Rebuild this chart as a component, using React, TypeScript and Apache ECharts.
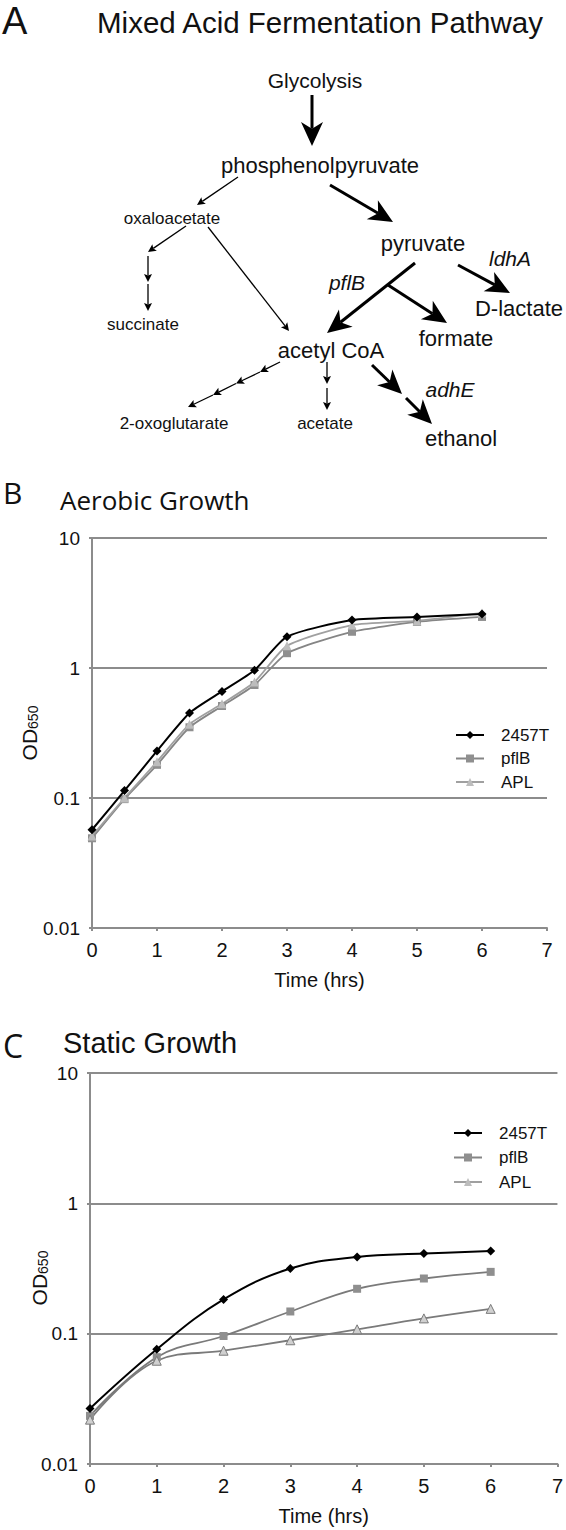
import React, { useEffect, useRef } from "react";
import * as echarts from "echarts";

// ---- Data ----
const seriesNames = ["2457T", "pflB", "APL"];
const xTickLabels = ["0", "1", "2", "3", "4", "5", "6", "7"];
const yTickLabels = ["0.01", "0.1", "1", "10"];

const aerobicTimes = [0, 0.5, 1, 1.5, 2, 2.5, 3, 4, 5, 6];
const aerobic2457T = [0.057, 0.114, 0.23, 0.45, 0.66, 0.96, 1.74, 2.34, 2.47, 2.6];
const aerobicPflB = [0.049, 0.098, 0.18, 0.35, 0.51, 0.74, 1.3, 1.9, 2.26, 2.47];
const aerobicAPL = [0.051, 0.1, 0.19, 0.37, 0.53, 0.78, 1.48, 2.14, 2.3, 2.65];

const staticTimes = [0, 1, 2, 3, 4, 5, 6];
const static2457T = [0.0267, 0.076, 0.183, 0.316, 0.388, 0.412, 0.43];
const staticPflB = [0.0234, 0.066, 0.096, 0.148, 0.221, 0.265, 0.298];
const staticAPL = [0.0219, 0.062, 0.074, 0.089, 0.108, 0.131, 0.155];

const FONT = "Liberation Sans, Arial, sans-serif";
const GRID_COLOR = "#8c8c8c";

function pairs(xs: number[], ys: number[]) {
  return xs.map((x, i) => [x, ys[i]]);
}

function arrow(x1: number, y1: number, x2: number, y2: number, thick: boolean) {
  const dx = x2 - x1;
  const dy = y2 - y1;
  const len = Math.hypot(dx, dy);
  const ux = dx / len;
  const uy = dy / len;
  const nx = -uy;
  const ny = ux;
  const L = thick ? 24 : 8;
  const W = thick ? 11 : 4;
  const notch = thick ? 0.72 : 0.8;
  const bx = x2 - ux * L;
  const by = y2 - uy * L;
  const kx = x2 - ux * L * notch;
  const ky = y2 - uy * L * notch;
  return [
    {
      type: "line",
      shape: { x1, y1, x2: kx, y2: ky },
      style: { stroke: "#000", lineWidth: thick ? 3 : 1.3 },
    },
    {
      type: "polygon",
      shape: {
        points: [
          [x2, y2],
          [bx + nx * W, by + ny * W],
          [kx, ky],
          [bx - nx * W, by - ny * W],
        ],
      },
      style: { fill: "#000" },
    },
  ];
}

function label(text: string, x: number, y: number, size: number, italic = false, align = "center") {
  return {
    type: "text",
    x,
    y,
    style: {
      text,
      font: `${italic ? "italic " : ""}${size}px ${FONT}`,
      fill: "#111",
      align,
      verticalAlign: "middle",
    },
  };
}

function odLabel(x: number, y: number) {
  return {
    type: "text",
    x,
    y,
    rotation: Math.PI / 2,
    style: {
      text: "{a|OD}{b|650}",
      align: "center",
      verticalAlign: "middle",
      rich: {
        a: { fontSize: 21, fontFamily: FONT, fill: "#111", lineHeight: 22, verticalAlign: "bottom" },
        b: { fontSize: 14, fontFamily: FONT, fill: "#111", lineHeight: 22, verticalAlign: "bottom" },
      },
    },
  };
}

export default function App() {
  const ref = useRef<HTMLDivElement>(null);

  useEffect(() => {
    document.body.style.margin = "0";
    const chart = echarts.init(ref.current!, undefined, { renderer: "svg" });

    const graphics: any[] = [
      { type: "text", x: 2, y: 21, style: { text: "A", font: `38px ${FONT}`, fill: "#111", align: "left", verticalAlign: "middle" } },
      label("Mixed Acid Fermentation Pathway", 97, 22, 29.5, false, "left"),
      label("Glycolysis", 315, 80, 21),
      label("phosphenolpyruvate", 320, 165, 22),
      label("oxaloacetate", 172, 218, 17),
      label("pyruvate", 423, 243, 22),
      label("ldhA", 510, 258, 21, true),
      label("pflB", 347, 282, 21, true),
      label("D-lactate", 519, 308, 22),
      label("succinate", 143, 324, 17),
      label("formate", 456, 338, 22),
      label("acetyl CoA", 331, 350, 22),
      label("adhE", 450, 389, 21, true),
      label("2-oxoglutarate", 174, 423, 17),
      label("acetate", 325, 423, 17),
      label("ethanol", 461, 438, 22),
      ...arrow(312, 95, 312, 146, true),
      ...arrow(238, 177, 197, 205, false),
      ...arrow(330, 185, 393, 222, true),
      ...arrow(186, 226, 148, 252, false),
      ...arrow(148, 256, 148, 282, false),
      ...arrow(148, 284, 148, 311, false),
      ...arrow(208, 227, 289, 331, false),
      ...arrow(415, 263, 327, 333, true),
      ...arrow(388, 285, 447, 323, true),
      ...arrow(458, 265, 510, 293, true),
      ...arrow(280, 362, 260, 372, false),
      ...arrow(260, 372, 236, 383.5, false),
      ...arrow(236, 383.5, 213, 395, false),
      ...arrow(213, 395, 188, 407, false),
      ...arrow(327, 362, 327, 384, false),
      ...arrow(327, 388, 327, 410, false),
      ...arrow(372, 365, 402, 394, true),
      ...arrow(406, 398, 432, 424, true),
      // Panel B title
      { type: "text", x: 3, y: 492, style: { text: "B", font: `30px Open Sans`, fill: "#111", align: "left", verticalAlign: "middle" } },
      { type: "text", x: 60, y: 500, style: { text: "Aerobic Growth", font: `26px Open Sans`, fill: "#111", align: "left", verticalAlign: "middle" } },
      // Panel C title
      { type: "text", x: 3, y: 1045, style: { text: "C", font: `32px Open Sans`, fill: "#111", align: "left", verticalAlign: "middle" } },
      { type: "text", x: 63, y: 1043, style: { text: "Static Growth", font: `29px ${FONT}`, fill: "#111", align: "left", verticalAlign: "middle" } },
      odLabel(29, 733),
      odLabel(39, 1278),
    ];

    const xAxisBase = (gridIndex: number) => ({
      type: "value",
      gridIndex,
      min: 0,
      max: 7,
      interval: 1,
      name: "Time (hrs)",
      nameLocation: "middle",
      nameGap: 42,
      nameTextStyle: { fontSize: 20, fontFamily: FONT, color: "#111" },
      axisLine: { show: true, lineStyle: { color: GRID_COLOR, width: 2 } },
      axisTick: { show: true, length: 3, lineStyle: { color: GRID_COLOR, width: 2 } },
      axisLabel: {
        fontSize: 20,
        fontFamily: FONT,
        color: "#111",
        margin: 12,
        formatter: (v: number) => xTickLabels[Math.round(v)] ?? "",
      },
      splitLine: { show: false },
    });

    const yAxisBase = (gridIndex: number) => ({
      type: "log",
      logBase: 10,
      gridIndex,
      min: 0.01,
      max: 10,
      axisLine: { show: true, lineStyle: { color: GRID_COLOR, width: 2 } },
      axisTick: { show: true, length: 3, lineStyle: { color: GRID_COLOR, width: 2 } },
      axisLabel: {
        fontSize: 19,
        fontFamily: FONT,
        color: "#111",
        margin: 12,
        formatter: (v: number) => {
          const idx = Math.round(Math.log10(v)) + 2;
          return yTickLabels[idx] ?? "";
        },
      },
      splitLine: { show: true, lineStyle: { color: GRID_COLOR, width: 2 } },
      minorTick: { show: false },
    });

    const mkSeries = (
      name: string,
      data: number[][],
      idx: number,
      symbol: string,
      size: number,
      lineColor: string,
      markColor: string,
      smooth: number,
      borderColor?: string
    ) => ({
      name,
      type: "line",
      xAxisIndex: idx,
      yAxisIndex: idx,
      data,
      smooth,
      symbol,
      symbolSize: size,
      showSymbol: true,
      lineStyle: { color: lineColor, width: name === "2457T" ? 2 : 1.8 },
      itemStyle: borderColor
        ? { color: markColor, borderColor, borderWidth: 1 }
        : { color: markColor },
      z: name === "2457T" ? 5 : 3,
    });

    const legendBase = (left: number, top: number, gap: number) => ({
      orient: "vertical",
      left,
      top,
      itemWidth: 28,
      itemHeight: 10,
      itemGap: gap,
      data: seriesNames,
      selectedMode: false,
      textStyle: { fontSize: 17, fontFamily: FONT, color: "#111", lineHeight: 20, padding: [0, 0, 0, 12] },
    });

    chart.setOption({
      animation: false,
      backgroundColor: "#fff",
      grid: [
        { left: 92, top: 538, width: 455, height: 390 },
        { left: 90, top: 1073, width: 470, height: 391 },
      ],
      xAxis: [xAxisBase(0), xAxisBase(1)],
      yAxis: [yAxisBase(0), yAxisBase(1)],
      legend: [legendBase(450, 720, 3.5), legendBase(448, 1118, 4.5)],
      series: [
        mkSeries("2457T", pairs(aerobicTimes, aerobic2457T), 0, "diamond", 9, "#000", "#000", 0.2),
        mkSeries("pflB", pairs(aerobicTimes, aerobicPflB), 0, "rect", 8, "#858585", "#8f8f8f", 0.2),
        mkSeries("APL", pairs(aerobicTimes, aerobicAPL), 0, "triangle", 9, "#a0a0a0", "#bdbdbd", 0.2),
        mkSeries("2457T", pairs(staticTimes, static2457T), 1, "diamond", 9, "#000", "#000", 0.4),
        mkSeries("pflB", pairs(staticTimes, staticPflB), 1, "rect", 8, "#7a7a7a", "#8f8f8f", 0.4),
        mkSeries("APL", pairs(staticTimes, staticAPL), 1, "triangle", 9, "#7a7a7a", "#d0d0d0", 0.4, "#7a7a7a"),
      ],
      graphic: graphics,
    });

    return () => chart.dispose();
  }, []);

  return <div ref={ref} style={{ width: 566, height: 1530 }} />;
}
